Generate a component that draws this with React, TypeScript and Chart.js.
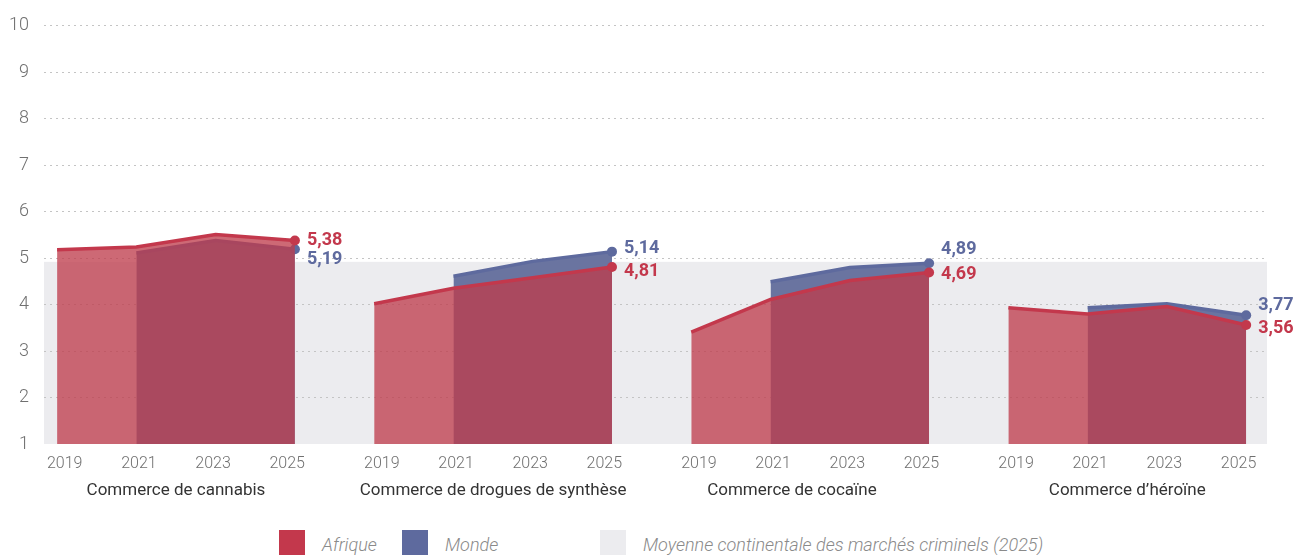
import React, { useEffect, useRef } from 'react';
import { Chart, registerables } from 'chart.js';

Chart.register(...registerables);

// ---------- data ----------
const YEARS = ['2019', '2021', '2023', '2025'];
const MARKETS = [
  'Commerce de cannabis',
  'Commerce de drogues de synthèse',
  'Commerce de cocaïne',
  'Commerce d\u2019héroïne',
];
// Afrique: 2019, 2021, 2023, 2025
const AFRIQUE_CANNABIS = [5.18, 5.24, 5.51, 5.38];
const AFRIQUE_SYNTHESE = [4.02, 4.35, 4.58, 4.81];
const AFRIQUE_COCAINE = [3.41, 4.11, 4.52, 4.69];
const AFRIQUE_HEROINE = [3.93, 3.8, 3.96, 3.56];
// Monde: 2021, 2023, 2025
const MONDE_CANNABIS = [5.11, 5.38, 5.19];
const MONDE_SYNTHESE = [4.61, 4.93, 5.14];
const MONDE_COCAINE = [4.49, 4.8, 4.89];
const MONDE_HEROINE = [3.93, 4.02, 3.77];
const MOYENNE_CONTINENTALE_2025 = 4.92;
const Y_TICKS = [1, 2, 3, 4, 5, 6, 7, 8, 9, 10];

const LEGEND_LABELS = ['Afrique', 'Monde', 'Moyenne continentale des marchés criminels (2025)'];

// ---------- styles ----------
const RED = '#C3384C';
const RED_FILL = 'rgba(190, 60, 76, 0.77)';
const BLUE = '#5E6A9E';
const BLUE_FILL = '#6A74A0';
const BAND = '#ECECEF';
const SANS = "Roboto, 'Open Sans', sans-serif";
// vertical nudges of the end labels [Afrique, Monde]
const LABEL_DY = [[0, 10], [5, -3], [2, -14], [3, -10]];
// horizontal nudges of the market titles (in axis units)
const MARKET_DX = [0, 0, -0.23, 0];

const AFRIQUE = [AFRIQUE_CANNABIS, AFRIQUE_SYNTHESE, AFRIQUE_COCAINE, AFRIQUE_HEROINE];
const MONDE = [MONDE_CANNABIS, MONDE_SYNTHESE, MONDE_COCAINE, MONDE_HEROINE];

const GROUP_STEP = YEARS.length;
const yearTickPositions: number[] = [];
MARKETS.forEach((_, g) => {
  YEARS.forEach((__, i) => {
    yearTickPositions.push(g * GROUP_STEP + 1.5 + (i - 1.5) * 0.9355);
  });
});
const groupTickPositions = MARKETS.map((_, g) => g * GROUP_STEP + 1.5 + MARKET_DX[g]);

const fmt = (v: number) => v.toFixed(2).replace('.', ',');

export default function App() {
  const ref = useRef<HTMLCanvasElement | null>(null);

  useEffect(() => {
    if (!ref.current) return;

    const datasets: any[] = [];
    AFRIQUE.forEach((arr, g) => {
      datasets.push({
        label: 'Afrique',
        data: arr.map((v, i) => ({ x: g * GROUP_STEP + i, y: v })),
        borderColor: RED,
        backgroundColor: RED_FILL,
        borderWidth: 3.5,
        fill: 'start',
        tension: 0,
        order: 0,
        pointRadius: (c: any) => (c.dataIndex === arr.length - 1 ? 5 : 0),
        pointBackgroundColor: RED,
        pointBorderWidth: 0,
        pointHoverRadius: 0,
      });
    });
    MONDE.forEach((arr, g) => {
      datasets.push({
        label: 'Monde',
        data: arr.map((v, i) => ({ x: g * GROUP_STEP + 1 + i, y: v })),
        borderColor: BLUE,
        backgroundColor: BLUE_FILL,
        borderWidth: 3.5,
        fill: 'start',
        tension: 0,
        order: 1,
        pointRadius: (c: any) => (c.dataIndex === arr.length - 1 ? 5 : 0),
        pointBackgroundColor: BLUE,
        pointBorderWidth: 0,
        pointHoverRadius: 0,
      });
    });

    const bandPlugin = {
      id: 'band',
      beforeDraw(chart: any) {
        const { ctx, chartArea, scales } = chart;
        const yTop = scales.y.getPixelForValue(MOYENNE_CONTINENTALE_2025);
        const yBot = scales.y.getPixelForValue(scales.y.min);
        ctx.save();
        ctx.fillStyle = BAND;
        ctx.fillRect(chartArea.left, yTop, chartArea.right - chartArea.left + 1, yBot - yTop);
        ctx.restore();
      },
    };

    const endLabels = {
      id: 'endLabels',
      afterDatasetsDraw(chart: any) {
        const { ctx } = chart;
        ctx.save();
        ctx.font = `bold 18px ${SANS}`;
        ctx.textBaseline = 'middle';
        ctx.textAlign = 'left';
        MARKETS.forEach((_, g) => {
          const pairs: [number, number[], string, number][] = [
            [g, AFRIQUE[g], RED, 0],
            [MARKETS.length + g, MONDE[g], BLUE, 1],
          ];
          pairs.forEach(([di, arr, color, k]) => {
            const meta = chart.getDatasetMeta(di);
            const pt = meta.data[arr.length - 1];
            ctx.fillStyle = color;
            ctx.fillText(fmt(arr[arr.length - 1]), pt.x + 12, pt.y + LABEL_DY[g][k]);
          });
        });
        ctx.restore();
      },
    };

    const chart = new Chart(ref.current, {
      type: 'line',
      data: { datasets },
      plugins: [bandPlugin, endLabels],
      options: {
        animation: false,
        responsive: false,
        devicePixelRatio: 1,
        layout: { padding: { top: 22, right: 38, bottom: 0, left: 0 } },
        plugins: { legend: { display: false }, tooltip: { enabled: false } },
        events: [],
        scales: {
          x: {
            type: 'linear',
            position: 'bottom',
            weight: 0,
            min: -0.165,
            max: 15.25,
            grid: { display: false, drawTicks: false },
            border: { display: false },
            afterBuildTicks: (s: any) => {
              s.ticks = yearTickPositions.map((v) => ({ value: v }));
            },
            afterFit: (s: any) => {
              s.height = 34;
            },
            ticks: {
              autoSkip: false,
              maxRotation: 0,
              padding: 10,
              color: '#707070',
              font: { family: SANS, size: 16, weight: '300' },
              callback: (_v: any, i: number) => YEARS[i % YEARS.length],
            },
          },
          x2: {
            type: 'linear',
            position: 'bottom',
            weight: 1,
            min: -0.165,
            max: 15.25,
            grid: { display: false, drawTicks: false },
            border: { display: false },
            afterBuildTicks: (s: any) => {
              s.ticks = groupTickPositions.map((v) => ({ value: v }));
            },
            afterFit: (s: any) => {
              s.height = 42;
            },
            ticks: {
              autoSkip: false,
              maxRotation: 0,
              padding: 3,
              color: '#333333',
              font: { family: SANS, size: 17 },
              callback: (_v: any, i: number) => MARKETS[i],
            },
          },
          y: {
            type: 'linear',
            min: 1,
            max: 10,
            afterBuildTicks: (s: any) => {
              s.ticks = Y_TICKS.map((v) => ({ value: v }));
            },
            afterFit: (s: any) => {
              s.width = 44;
            },
            grid: {
              drawTicks: false,
              lineWidth: 1,
              color: (c: any) => (c.tick && c.tick.value === 1 ? 'rgba(0,0,0,0)' : '#C4C4C4'),
            },
            border: { display: false, dash: [2, 4] },
            ticks: {
              padding: 15,
              color: '#707070',
              font: { family: SANS, size: 18, weight: '300' },
            },
          },
        },
      } as any,
    });
    return () => chart.destroy();
  }, []);

  const legendColors = [RED, BLUE, BAND];
  const legendLefts = [279, 402, 600];

  return (
    <div
      style={{
        position: 'fixed',
        left: 0,
        top: 0,
        width: 1304,
        height: 555,
        background: '#ffffff',
        overflow: 'hidden',
      }}
    >
      <canvas ref={ref} width={1304} height={520} style={{ display: 'block', width: 1304, height: 520 }} />
      {LEGEND_LABELS.map((label, i) => (
        <div key={label}>
          <div
            style={{
              position: 'absolute',
              left: legendLefts[i],
              top: 530,
              width: 26,
              height: 25,
              background: legendColors[i],
            }}
          />
          <div
            style={{
              position: 'absolute',
              left: legendLefts[i] + 43,
              top: 532,
              height: 26,
              lineHeight: '26px',
              fontFamily: SANS,
              fontStyle: 'italic',
              fontWeight: 300,
              fontSize: 18,
              color: '#8a8a8a',
              whiteSpace: 'nowrap',
            }}
          >
            {label}
          </div>
        </div>
      ))}
    </div>
  );
}
